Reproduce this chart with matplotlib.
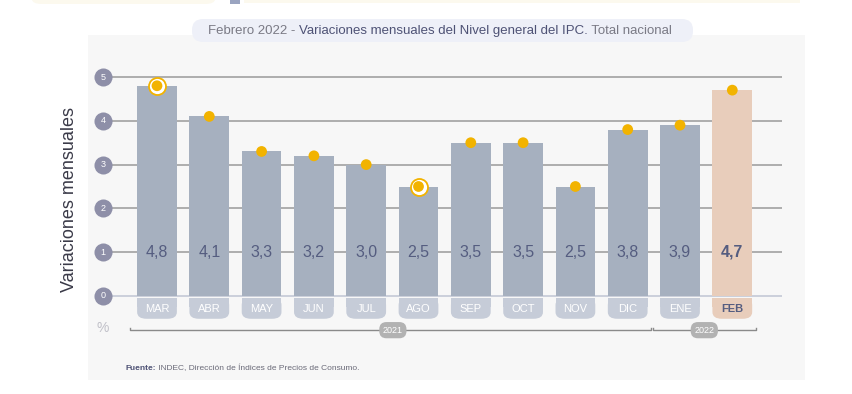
import matplotlib
matplotlib.use("Agg")
import matplotlib.pyplot as plt
from matplotlib.patches import FancyBboxPatch, Rectangle
from matplotlib import font_manager

months = ["MAR", "ABR", "MAY", "JUN", "JUL", "AGO", "SEP", "OCT", "NOV", "DIC", "ENE", "FEB"]
values = [4.8, 4.1, 3.3, 3.2, 3.0, 2.5, 3.5, 3.5, 2.5, 3.8, 3.9, 4.7]
value_labels = ["4,8", "4,1", "3,3", "3,2", "3,0", "2,5", "3,5", "3,5", "2,5", "3,8", "3,9", "4,7"]
yticks = [0, 1, 2, 3, 4, 5]
highlight = ["MAR", "AGO"]
years = [("2021", 0, 9), ("2022", 10, 11)]

names = {f.name for f in font_manager.fontManager.ttflist}
narrow = "Liberation Sans Narrow" if "Liberation Sans Narrow" in names else "Liberation Sans"
plt.rcParams["font.family"] = ["Liberation Sans", "DejaVu Sans"]

W, H = 852, 394
fig = plt.figure(figsize=(W / 100, H / 100), dpi=100)
fig.patch.set_facecolor("white")

def fx(px):
    return px / W

def fy(py):
    return 1 - py / H

# background panels
fig.patches.append(Rectangle((fx(88), fy(380)), fx(805 - 88), (380 - 35) / H,
                             transform=fig.transFigure, facecolor="#f7f7f7", edgecolor="none", zorder=-10))
fig.patches.append(FancyBboxPatch((fx(32), fy(4)), fx(215 - 32), 10 / H, boxstyle="round,pad=0,rounding_size=0.012",
                                  transform=fig.transFigure, facecolor="#fcf9ee", edgecolor="none", zorder=-10))
fig.patches.append(Rectangle((fx(244), fy(3)), fx(800 - 244), 10 / H,
                             transform=fig.transFigure, facecolor="#fcf9ee", edgecolor="none", zorder=-10))
fig.patches.append(Rectangle((fx(230), fy(4)), fx(10), 10 / H,
                             transform=fig.transFigure, facecolor="#9aa4c0", edgecolor="none", zorder=-10))

# title pill
fig.patches.append(FancyBboxPatch((fx(192), fy(42)), fx(693 - 192), 23 / H,
                                  boxstyle="round,pad=0,rounding_size=0.013", mutation_aspect=2.1,
                                  transform=fig.transFigure, facecolor="#eef0f8", edgecolor="none", zorder=-5))
t1 = fig.text(fx(208), fy(31), "Febrero 2022 - ", ha="left", va="center", fontsize=9.5,
              color="#7a7a85", family=narrow)
t2 = fig.text(0, 0, "Variaciones mensuales del Nivel general del IPC.", fontsize=9.5, color="#4e5275",
              family=narrow, ha="left", va="bottom")
fig.canvas.draw()
bb = t1.get_window_extent()
t2.set_position((bb.x1 / W, bb.y0 / H))
fig.canvas.draw()
bb2 = t2.get_window_extent()
fig.text(bb2.x1 / W, bb2.y0 / H, " Total nacional", fontsize=9.5, color="#7a7a85",
         family=narrow, ha="left", va="bottom")

# axes geometry: x index 0 at px 157, 52.3 px per step; y 0 at px 296, 43.8 px per unit
px_x, px_y = 52.3, 43.8
xmin, xmax = -1.25, 11.95
ymin, ymax = -0.9, 5.4
left = 157 + xmin * px_x
right = 157 + xmax * px_x
bottom = 296 - ymin * px_y
top = 296 - ymax * px_y
ax = fig.add_axes([fx(left), fy(bottom), fx(right - left), (bottom - top) / H])
ax.set_xlim(xmin, xmax)
ax.set_ylim(ymin, ymax)
ax.axis("off")

x = list(range(len(months)))
for t in yticks:
    ax.plot([-0.95, xmax], [t, t], color="#a8a8a8" if t else "#c8ccd8", lw=1.3, zorder=1)
    ax.plot([-1.03], [t], marker="o", ms=13, color="#8e8fa8", mec="none", zorder=3)
    ax.plot([-0.93], [t], marker=">", ms=6, color="#8e8fa8", mec="none", zorder=3)
    ax.text(-1.03, t, str(t), ha="center", va="center", fontsize=6.5, color="white", zorder=4)

colors = ["#a6b0bf"] * (len(months) - 1) + ["#e8cdbb"]
ax.bar(x, values, width=0.76, color=colors, zorder=2)

for i, (m, v, lab) in enumerate(zip(months, values, value_labels)):
    last = i == len(months) - 1
    ax.text(i, 1, lab, ha="center", va="center", fontsize=11.5, color="#555d80",
            fontweight="bold" if last else "normal", zorder=5)
    tab_col = "#e8cdbb" if last else "#c6ccd8"
    ax.add_patch(FancyBboxPatch((i - 0.38, -0.52), 0.76, 0.47, boxstyle="round,pad=0,rounding_size=0.18",
                                mutation_aspect=0.85, facecolor=tab_col, edgecolor="none", zorder=2))
    ax.add_patch(Rectangle((i - 0.38, -0.25), 0.76, 0.2, facecolor=tab_col, edgecolor="none", zorder=2))
    ax.text(i, -0.29, m, ha="center", va="center", fontsize=8, zorder=5,
            color="#555d80" if last else "white", fontweight="bold" if last else "normal")
    if m in highlight:
        ax.scatter([i], [v], s=150, facecolor="white", edgecolor="#f2b300", lw=1.3, zorder=6)
    ax.scatter([i], [v], s=60, color="#f2b300", edgecolor="none", zorder=7)

# year brackets
yb = -0.78
for label, a, b in years:
    x0, x1 = a - 0.52, b + 0.45
    ax.plot([x0, x0, x1, x1], [yb + 0.05, yb, yb, yb + 0.05], color="#8a8a8a", lw=1, zorder=2)
    xc = (x0 + x1) / 2 if label == "2022" else 4.51
    ax.text(xc, yb, label, ha="center", va="center", fontsize=6.5, color="white", zorder=4,
            bbox=dict(boxstyle="round,pad=0.4,rounding_size=0.8", facecolor="#b2b2b2", edgecolor="none"))

ax.text(-1.03, -0.73, "%", ha="center", va="center", fontsize=10, color="#c0c0c8")

fig.text(fx(70), fy(200), "Variaciones mensuales", rotation=90, ha="center", va="center",
         fontsize=13, color="#3a3a48")

ft = fig.text(fx(125), fy(370), "Fuente:", ha="left", va="baseline", fontsize=6, color="#4e5275",
              fontweight="bold")
fig.canvas.draw()
bb3 = ft.get_window_extent()
fig.text(bb3.x1 / W, fy(370), " INDEC, Dirección de Índices de Precios de Consumo.", ha="left",
         va="baseline", fontsize=6, color="#6a6a78")

fig.savefig("out.png", dpi=100)
